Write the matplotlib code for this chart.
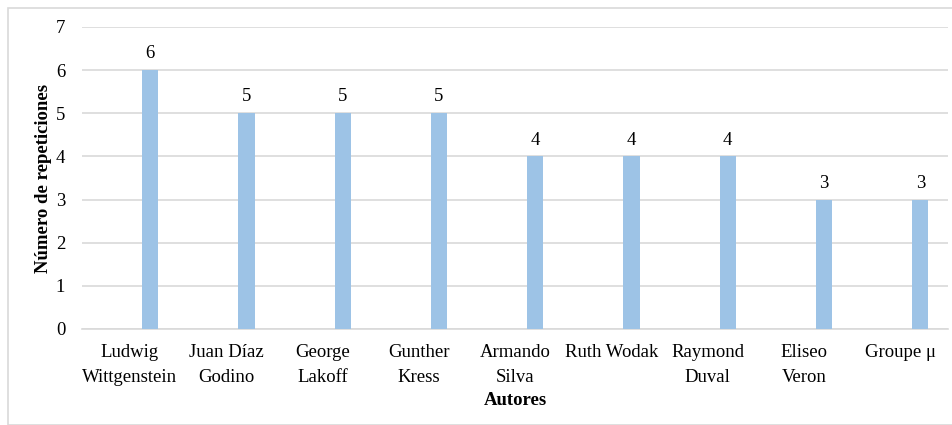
import matplotlib.pyplot as plt
import numpy as np
from matplotlib.patches import Rectangle

autores = ["Ludwig\nWittgenstein", "Juan Díaz\nGodino", "George\nLakoff", "Gunther\nKress",
           "Armando\nSilva", "Ruth Wodak", "Raymond\nDuval", "Eliseo\nVeron", "Groupe μ"]
repeticiones = [6, 5, 5, 5, 4, 4, 4, 3, 3]

plt.rcParams['font.family'] = ['Liberation Serif', 'DejaVu Serif']

fig = plt.figure(figsize=(9.52, 4.25), dpi=100)
ax = fig.add_axes([0.086, 0.226, 0.91, 0.7105])

x = np.arange(len(autores))
bars = ax.bar(x + 0.21, repeticiones, width=0.17, color='#9dc3e6', zorder=3)
for b, v in zip(bars, repeticiones):
    ax.text(b.get_x() + b.get_width() / 2, v + 0.18, str(v), ha='center', va='bottom', fontsize=13.5)

ax.set_xlim(-0.5, len(autores) - 0.5)
ax.set_ylim(0, 7)
ax.set_yticks(range(8))
ax.set_xticks(x)
ax.set_xticklabels(autores, fontsize=13.5, linespacing=1.6)
ax.tick_params(axis='y', labelsize=13.5, length=0, pad=12)
ax.tick_params(axis='x', length=0, pad=11)
ax.grid(axis='y', color='#d9d9d9', linewidth=1.2, zorder=0)
for s in ['top', 'right', 'left']:
    ax.spines[s].set_visible(False)
ax.spines['bottom'].set_color('#d9d9d9')
ax.spines['bottom'].set_linewidth(1.2)

ax.set_ylabel("Número de repeticiones", fontsize=13.5, fontweight='bold')
ax.yaxis.set_label_coords(-0.035, 0.5)
ax.set_xlabel("Autores", fontsize=13.5, fontweight='bold', labelpad=4)

fig.patches.append(Rectangle((8 / 952, 0), 1, 1 - 8 / 425, transform=fig.transFigure,
                             fill=False, edgecolor='#d9d9d9', linewidth=1.2))

fig.savefig("out.png", dpi=100)
